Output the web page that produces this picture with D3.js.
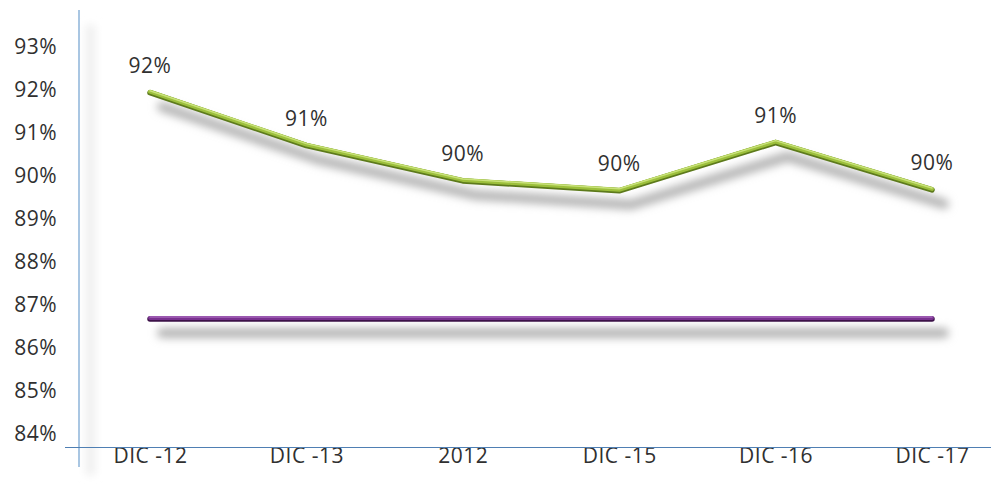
<!DOCTYPE html>
<html>
<head>
<meta charset="utf-8">
<script src="https://cdn.jsdelivr.net/npm/d3@7"></script>
<style>
    body { margin: 0; background: #fff; }
    text { font-family: 'Open Sans', sans-serif; fill: #303030; }
    .axis text { font-size: 21px; letter-spacing: 0.5px; }
    .data-label { font-size: 21px; letter-spacing: 0.5px; }
</style>
</head>
<body>
<svg id="plot"></svg>
<script>
'use strict';

const categories = ['DIC -12', 'DIC -13', '2012', 'DIC -15', 'DIC -16', 'DIC -17'];
const seriesValues = [91.95, 90.72, 89.9, 89.67, 90.79, 89.69];
const dataLabels = ['92%', '91%', '90%', '90%', '91%', '90%'];
const targetValues = [86.69, 86.69, 86.69, 86.69, 86.69, 86.69];
const yTicks = [84, 85, 86, 87, 88, 89, 90, 91, 92, 93];

const plotWidth = 991;
const plotHeight = 486;
const axisX = 79;
const axisY = 447;

const svg = d3.select('#plot')
    .attr('width', plotWidth)
    .attr('height', plotHeight);

const defs = svg.append('defs');

// user space units so a flat line still gets a blur region
defs.append('filter')
    .attr('id', 'shadow')
    .attr('filterUnits', 'userSpaceOnUse')
    .attr('x', 0).attr('y', 0)
    .attr('width', plotWidth).attr('height', plotHeight)
    .append('feGaussianBlur')
    .attr('stdDeviation', 4.5);

defs.append('filter')
    .attr('id', 'soft')
    .attr('filterUnits', 'userSpaceOnUse')
    .attr('x', 0).attr('y', 0)
    .attr('width', plotWidth).attr('height', plotHeight)
    .append('feGaussianBlur')
    .attr('stdDeviation', 4);

const xScale = d3.scalePoint()
    .domain(categories)
    .range([150, 932]);

const yScale = d3.scaleLinear()
    .domain([83.69, 93.85])
    .range([axisY, 10]);

// faint shadow beside the value axis
svg.append('rect')
    .attr('x', axisX + 7)
    .attr('y', 25)
    .attr('width', 9)
    .attr('height', 450)
    .attr('fill', '#eeeeee')
    .attr('filter', 'url(#soft)');

function renderSeries(values, colors) {
    const line = d3.line()
        .x((d, i) => xScale(categories[i]))
        .y(d => yScale(d));

    svg.append('path')
        .attr('d', line(values))
        .attr('transform', 'translate(12, 15)')
        .attr('fill', 'none')
        .attr('stroke', '#b4b4b4')
        .attr('stroke-width', 10)
        .attr('stroke-linecap', 'round')
        .attr('stroke-linejoin', 'round')
        .attr('filter', 'url(#shadow)');

    svg.append('path')
        .attr('d', line(values))
        .attr('transform', 'translate(0, 1)')
        .attr('fill', 'none')
        .attr('stroke', colors.dark)
        .attr('stroke-width', 5.5)
        .attr('stroke-linecap', 'round')
        .attr('stroke-linejoin', 'round');

    svg.append('path')
        .attr('d', line(values))
        .attr('fill', 'none')
        .attr('stroke', colors.main)
        .attr('stroke-width', 4)
        .attr('stroke-linecap', 'round')
        .attr('stroke-linejoin', 'round');

    svg.append('path')
        .attr('d', line(values))
        .attr('transform', 'translate(0, -1)')
        .attr('fill', 'none')
        .attr('stroke', colors.light)
        .attr('stroke-width', 1.5)
        .attr('stroke-linecap', 'round')
        .attr('stroke-linejoin', 'round');
}

renderSeries(targetValues, {dark: '#3c1248', main: '#7a3290', light: '#a667bb'});
renderSeries(seriesValues, {dark: '#5d7a1c', main: '#9cbf3c', light: '#c9e27a'});

svg.append('g')
    .selectAll('text')
    .data(seriesValues)
    .enter()
    .append('text')
    .attr('class', 'data-label')
    .attr('x', (d, i) => xScale(categories[i]))
    .attr('y', d => yScale(d) - 27)
    .attr('text-anchor', 'middle')
    .attr('dominant-baseline', 'central')
    .text((d, i) => dataLabels[i]);

const yAxis = d3.axisLeft(yScale)
    .tickValues(yTicks)
    .tickSize(0)
    .tickPadding(22)
    .tickFormat(d => `${d}%`);

svg.append('g')
    .attr('class', 'axis')
    .attr('transform', `translate(${axisX}, 0)`)
    .call(yAxis)
    .call(g => g.select('.domain').remove());

const xAxis = d3.axisBottom(xScale).tickSize(0).tickPadding(1);

svg.append('g')
    .attr('class', 'axis')
    .attr('transform', `translate(0, ${axisY})`)
    .call(xAxis)
    .call(g => g.select('.domain').remove());

svg.append('line')
    .attr('x1', axisX).attr('x2', axisX)
    .attr('y1', 10).attr('y2', 467)
    .attr('stroke', '#a9c6e2')
    .attr('stroke-width', 2);

svg.append('line')
    .attr('x1', 65).attr('x2', plotWidth)
    .attr('y1', axisY + 0.5).attr('y2', axisY + 0.5)
    .attr('stroke', '#4f7fb3')
    .attr('stroke-width', 1);
</script>
</body>
</html>
